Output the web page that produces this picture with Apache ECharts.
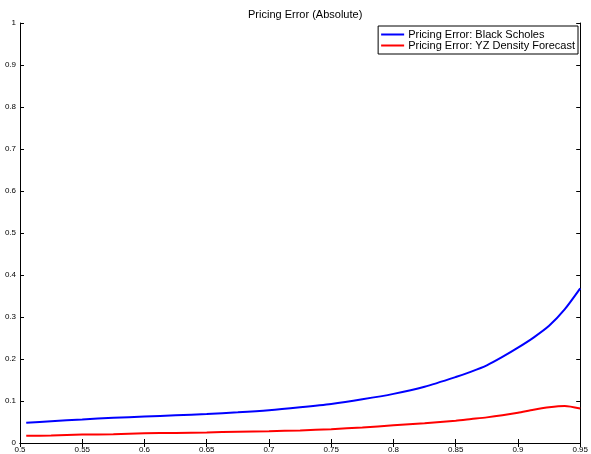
<!DOCTYPE html>
<html>
<head>
<meta charset="utf-8">
<script src="https://cdn.jsdelivr.net/npm/echarts@6/dist/echarts.min.js"></script>
<style>html,body{margin:0;padding:0;background:#fff}#c{width:591px;height:454px}</style>
</head>
<body>
<div id="c"></div>
<script>
var xValues = [0.505, 0.525, 0.55, 0.575, 0.6, 0.625, 0.65, 0.675, 0.7, 0.725, 0.75, 0.775, 0.8, 0.825, 0.85, 0.8625, 0.875, 0.8875, 0.9, 0.9125, 0.925, 0.9375, 0.95];
var blackScholes = [0.048, 0.052, 0.056, 0.060, 0.063, 0.066, 0.069, 0.073, 0.078, 0.085, 0.093, 0.104, 0.117, 0.134, 0.157, 0.170, 0.185, 0.205, 0.227, 0.251, 0.279, 0.318, 0.368];
var yzDensity = [0.017, 0.018, 0.020, 0.021, 0.023, 0.024, 0.025, 0.027, 0.028, 0.030, 0.033, 0.037, 0.042, 0.047, 0.053, 0.057, 0.061, 0.066, 0.072, 0.079, 0.085, 0.088, 0.082];
var seriesNames = ['Pricing Error: Black Scholes', 'Pricing Error: YZ Density Forecast'];
var titleText = 'Pricing Error (Absolute)';

function pairs(xs, ys) { return xs.map(function (x, i) { return [x, ys[i]]; }); }
function fmt(v) { return String(+v.toFixed(2)); }

var font = 'Liberation Sans, Arial, sans-serif';
var axisCommon = {
  axisLine: { show: true, lineStyle: { color: '#000', width: 1 } },
  axisTick: { show: true, inside: true, length: 4, lineStyle: { color: '#000' } },
  splitLine: { show: false }
};

var chart = echarts.init(document.getElementById('c'));
chart.setOption({
  animation: false,
  backgroundColor: '#fff',
  title: { text: titleText, left: 243, top: 4, textStyle: { fontFamily: font, fontSize: 11, fontWeight: 'normal', color: '#000' } },
  grid: { left: 20, right: 9, top: 23, bottom: 11, containLabel: false },
  legend: {
    right: 13, top: 26, orient: 'vertical', itemGap: 0, padding: [3, 3, 3, 3],
    backgroundColor: '#fff', borderColor: '#000', borderWidth: 1,
    icon: 'rect', itemWidth: 23, itemHeight: 2,
    textStyle: { fontFamily: font, fontSize: 11, color: '#000', padding: [0, 0, 0, -1], lineHeight: 11 },
    data: seriesNames
  },
  xAxis: [
    Object.assign({ type: 'value', min: 0.5, max: 0.95, interval: 0.05, position: 'bottom',
      axisLabel: { fontFamily: font, fontSize: 8, color: '#000', margin: 3, formatter: fmt, showMinLabel: true, showMaxLabel: true } }, axisCommon),
    Object.assign({ type: 'value', min: 0.5, max: 0.95, interval: 0.05, position: 'top',
      axisLabel: { show: false } }, axisCommon)
  ],
  yAxis: [
    Object.assign({ type: 'value', min: 0, max: 1, interval: 0.1, position: 'left',
      axisLabel: { fontFamily: font, fontSize: 8, color: '#000', margin: 4, formatter: fmt } }, axisCommon),
    Object.assign({ type: 'value', min: 0, max: 1, interval: 0.1, position: 'right',
      axisLabel: { show: false } }, axisCommon)
  ],
  series: [
    { name: seriesNames[0], type: 'line', data: pairs(xValues, blackScholes), smooth: 0.25, showSymbol: false,
      lineStyle: { color: '#0000ff', width: 2 }, itemStyle: { color: '#0000ff' } },
    { name: seriesNames[1], type: 'line', data: pairs(xValues, yzDensity), smooth: 0.25, showSymbol: false,
      lineStyle: { color: '#ff0000', width: 2 }, itemStyle: { color: '#ff0000' } }
  ]
});
</script>
</body>
</html>
